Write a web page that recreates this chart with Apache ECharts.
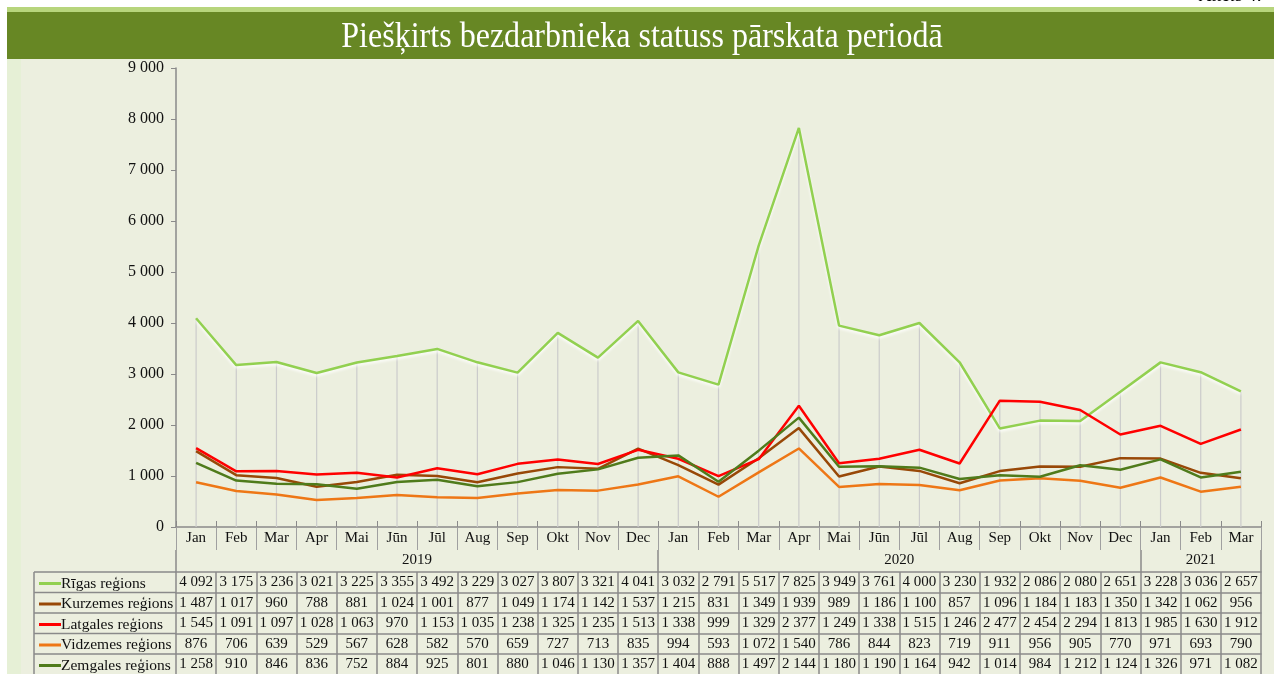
<!DOCTYPE html>
<html>
<head>
<meta charset="utf-8">
<script src="https://cdn.jsdelivr.net/npm/echarts@6/dist/echarts.min.js"></script>
<style>
  html, body { margin: 0; padding: 0; background: #fff; }
  #chart { width: 1274px; height: 674px; }
</style>
</head>
<body>
<div id="chart"></div>
<script>
  // mēneši un gadi
  var months = ['Jan', 'Feb', 'Mar', 'Apr', 'Mai', 'Jūn', 'Jūl', 'Aug', 'Sep', 'Okt', 'Nov', 'Dec'];
  var years = ['2019', '2020', '2021'];
  var yearMonths = [12, 12, 3];

  var seriesNames = ['Rīgas reģions', 'Kurzemes reģions', 'Latgales reģions', 'Vidzemes reģions', 'Zemgales reģions'];
  var seriesColors = ['#92D050', '#984807', '#FF0000', '#EE7716', '#4F7B1B'];

  var rigas = [4092, 3175, 3236, 3021, 3225, 3355, 3492, 3229, 3027, 3807, 3321, 4041,
               3032, 2791, 5517, 7825, 3949, 3761, 4000, 3230, 1932, 2086, 2080, 2651,
               3228, 3036, 2657];
  var kurzemes = [1487, 1017, 960, 788, 881, 1024, 1001, 877, 1049, 1174, 1142, 1537,
                  1215, 831, 1349, 1939, 989, 1186, 1100, 857, 1096, 1184, 1183, 1350,
                  1342, 1062, 956];
  var latgales = [1545, 1091, 1097, 1028, 1063, 970, 1153, 1035, 1238, 1325, 1235, 1513,
                  1338, 999, 1329, 2377, 1249, 1338, 1515, 1246, 2477, 2454, 2294, 1813,
                  1985, 1630, 1912];
  var vidzemes = [876, 706, 639, 529, 567, 628, 582, 570, 659, 727, 713, 835,
                  994, 593, 1072, 1540, 786, 844, 823, 719, 911, 956, 905, 770,
                  971, 693, 790];
  var zemgales = [1258, 910, 846, 836, 752, 884, 925, 801, 880, 1046, 1130, 1357,
                  1404, 888, 1497, 2144, 1180, 1190, 1164, 942, 1014, 984, 1212, 1124,
                  1326, 971, 1082];

  var yTicks = [0, 1000, 2000, 3000, 4000, 5000, 6000, 7000, 8000, 9000];

  var seriesData = [rigas, kurzemes, latgales, vidzemes, zemgales];

  function fmt(v) {
    return String(v).replace(/\B(?=(\d{3})+(?!\d))/g, ' ');
  }

  var categories = [];
  var monthLabels = [];
  var yearBounds = [0];
  var yearCenters = [];
  var pos = 0;
  years.forEach(function (y, i) {
    for (var m = 0; m < yearMonths[i]; m++) {
      categories.push(y + ' ' + months[m]);
      monthLabels.push(months[m]);
    }
    yearCenters.push(pos + yearMonths[i] / 2);
    pos += yearMonths[i];
    yearBounds.push(pos);
  });

  // vertikālās līnijas līdz augstākajam punktam
  var dropData = categories.map(function (c, i) {
    return Math.max.apply(null, seriesData.map(function (s) { return s[i]; }));
  });

  var serif = '"Liberation Serif", "Times New Roman", serif';
  var border = '#8a8a8a';
  var rowTop = [45, 65.5, 86, 106.5, 127];
  var rowH = 20.5;

  var xAxes = [
    {
      type: 'category', data: categories, position: 'bottom', offset: 0,
      axisLine: { show: true, lineStyle: { color: border, width: 1.5 } },
      axisTick: { show: true, inside: true, length: 6, interval: 0, lineStyle: { color: border } },
      axisLabel: { show: false }, splitLine: { show: false }
    },
    {
      type: 'category', data: monthLabels, position: 'bottom', offset: 0,
      axisLine: { show: false },
      axisTick: { show: true, length: 23, interval: 0, lineStyle: { color: '#a0a0a0', width: 1 } },
      axisLabel: { interval: 0, margin: 4, fontFamily: serif, fontSize: 15, color: '#111' }
    },
    {
      type: 'value', min: 0, max: categories.length, position: 'bottom', offset: 23,
      axisLine: { show: false },
      splitLine: { show: false },
      axisTick: { show: true, length: 22, customValues: yearBounds, lineStyle: { color: border, width: 1.5 } },
      axisLabel: {
        margin: 3, fontFamily: serif, fontSize: 15, color: '#111',
        customValues: yearCenters,
        formatter: function (v) {
          var i = yearCenters.indexOf(v);
          return i >= 0 ? years[i] : '';
        }
      }
    }
  ];

  seriesData.forEach(function (s, i) {
    xAxes.push({
      type: 'category', data: s.map(fmt), position: 'bottom', offset: rowTop[i],
      axisLine: { show: true, lineStyle: { color: border, width: 1.5 } },
      axisTick: { show: true, length: rowH, interval: 0, lineStyle: { color: border, width: 1.5 } },
      axisLabel: { interval: 0, margin: 3, fontFamily: serif, fontSize: 15, color: '#111' }
    });
  });

  var series = [{
    name: 'drop', type: 'bar', data: dropData, barWidth: 1.2, silent: true, z: 1,
    itemStyle: { color: '#cbcbcb' }
  }];
  seriesData.forEach(function (s, i) {
    var ls = { width: 2.5, color: seriesColors[i] };
    if (i === 0) {
      ls.shadowColor = 'rgba(255,255,255,0.95)';
      ls.shadowBlur = 3;
      ls.shadowOffsetY = 2;
    }
    series.push({
      name: seriesNames[i], type: 'line', data: s, showSymbol: false, symbol: 'none',
      lineStyle: ls, itemStyle: { color: seriesColors[i] }, z: 3 + i, animation: false
    });
  });

  // viena leģenda katrai tabulas rindai
  var legends = seriesNames.map(function (n, i) {
    return {
      data: [n], left: 34, top: 527 + rowTop[i] - 3, height: rowH,
      icon: 'rect', itemWidth: 22, itemHeight: 3, itemGap: 0,
      textStyle: { fontFamily: serif, fontSize: 15.5, color: '#111', lineHeight: 19, padding: [0, 0, 0, -5] },
      selectedMode: false
    };
  });

  // rotājumi un tabulas kreisās kolonnas rāmji
  var graphics = [
    { type: 'rect', shape: { x: 0, y: 0, width: 1274, height: 7 }, style: { fill: '#fff' }, z: -10 },
    { type: 'rect', shape: { x: 0, y: 0, width: 7, height: 674 }, style: { fill: '#fff' }, z: -10 },
    { type: 'rect', shape: { x: 7, y: 7, width: 1267, height: 5 }, style: { fill: '#B7D57C' }, z: -10 },
    { type: 'rect', shape: { x: 7, y: 12, width: 1267, height: 47 }, style: { fill: '#678724' }, z: -10 },
    { type: 'rect', shape: { x: 7, y: 59, width: 14, height: 615 }, style: { fill: '#E6F0D6' }, z: -10 },
    {
      type: 'text', x: 642, y: 38, scaleX: 0.89,
      style: {
        text: 'Piešķirts bezdarbnieka statuss pārskata periodā', fill: '#fff',
        font: '36px ' + serif, align: 'center', verticalAlign: 'middle'
      }
    },
    { type: 'text', x: 1262, y: 5, style: { text: 'Attēls 4.', font: 'italic 19px ' + serif, fill: '#000', align: 'right', verticalAlign: 'bottom' } },
    { type: 'line', shape: { x1: 34, y1: 572, x2: 34, y2: 674 }, style: { stroke: border, lineWidth: 1.5 } }
  ];
  rowTop.forEach(function (t) {
    graphics.push({ type: 'line', shape: { x1: 34, y1: 527 + t, x2: 176, y2: 527 + t }, style: { stroke: border, lineWidth: 1.5 } });
  });

  var myChart = echarts.init(document.getElementById('chart'));
  myChart.setOption({
    animation: false,
    backgroundColor: '#ECEFDF',
    legend: legends,
    grid: { left: 176, right: 13, top: 68, bottom: 147, containLabel: false, outerBoundsMode: 'none' },
    xAxis: xAxes,
    yAxis: {
      type: 'value', min: yTicks[0], max: yTicks[yTicks.length - 1], interval: 1000,
      axisLine: { show: true, lineStyle: { color: border, width: 1.5 } },
      axisTick: { show: true, length: 5, lineStyle: { color: border } },
      splitLine: { show: false },
      axisLabel: { margin: 12, fontFamily: serif, fontSize: 16, color: '#111', formatter: fmt }
    },
    graphic: graphics,
    series: series
  });
</script>
</body>
</html>
